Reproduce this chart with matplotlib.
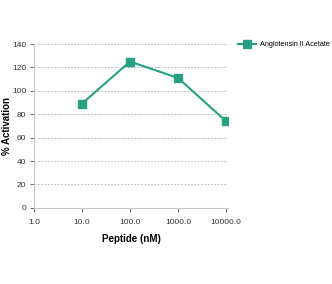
import matplotlib.pyplot as plt

peptide_nm = [10.0, 100.0, 1000.0, 10000.0]
activation = [89, 125, 111, 74]
series_name = 'Angiotensin II Acetate'
x_ticks = [1.0, 10.0, 100.0, 1000.0, 10000.0]
x_tick_labels = ['1.0', '10.0', '100.0', '1000.0', '10000.0']
y_ticks = [0, 20, 40, 60, 80, 100, 120, 140]

teal = '#26a182'
narrow = ['DejaVu Sans Condensed', 'Liberation Sans']

fig = plt.figure(figsize=(3.32, 2.84), dpi=100)
ax = fig.add_axes([0.102, 0.268, 0.585, 0.577])

ax.plot(peptide_nm, activation, color=teal, lw=1.5, marker='s', ms=6,
        label=series_name)

ax.set_xscale('log')
ax.set_xlim(1.0, 11000)
ax.set_ylim(0, 140)
ax.set_xticks(x_ticks, labels=x_tick_labels)
ax.minorticks_off()
ax.set_yticks(y_ticks)
ax.yaxis.grid(True, linestyle=(0, (2, 2)), color='#b0b0b0', lw=0.6)

for side in ['top', 'right']:
    ax.spines[side].set_visible(False)
ax.spines['left'].set_color('#c8c8d0')
ax.spines['bottom'].set_color('#c8c8d0')
ax.tick_params(length=3, width=0.6, color='#555555', labelcolor='#333333')
ax.tick_params(axis='x', pad=5)
ax.tick_params(axis='y', pad=2.5)
for lab in ax.get_xticklabels() + ax.get_yticklabels():
    lab.set_family(narrow)
    lab.set_fontsize(6)

ax.set_xlabel('Peptide (nM)', fontsize=7, fontweight='bold',
              family='Liberation Sans', labelpad=6)
ax.set_ylabel('% Activation', fontsize=7, fontweight='bold',
              family='Liberation Sans')
ax.yaxis.set_label_coords(-0.115, 0.5)

fig.legend(loc='upper left', bbox_to_anchor=(0.705, 0.87), frameon=False,
           prop={'family': narrow, 'size': 5.2},
           handlelength=2.4, handletextpad=0.6, borderaxespad=0.2)

fig.savefig('out.png', dpi=100)
plt.close('all')
